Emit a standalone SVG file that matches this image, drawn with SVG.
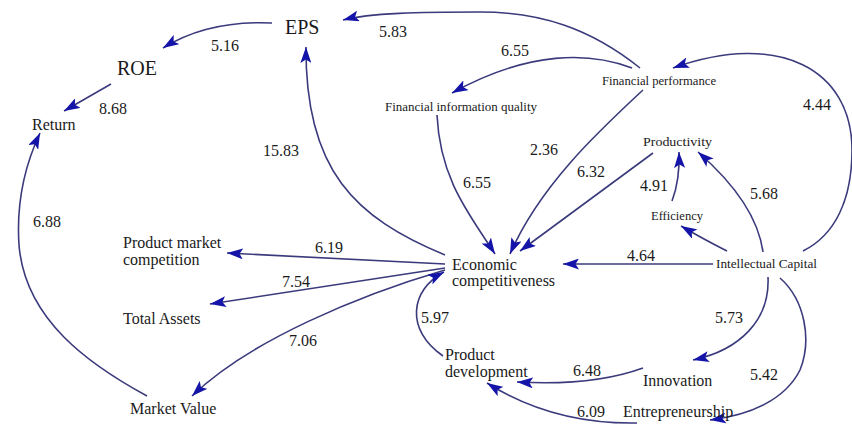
<svg xmlns="http://www.w3.org/2000/svg" width="852" height="426" viewBox="0 0 852 426">
<defs>
<marker id="ah" markerUnits="userSpaceOnUse" markerWidth="17" markerHeight="11" refX="16" refY="5.5" orient="auto">
<path d="M0,0 L16,5.5 L0,11 L3.5,5.5 z" fill="#1414a8"/>
</marker>
<style>
text{font-family:"Liberation Serif","Times New Roman",serif;fill:#1a1a1a}
.big{font-size:20px}
.lbl{font-size:16px}
.num{font-size:16px}
.sm{font-size:13px}
.e{fill:none;stroke:#3a3a7c;stroke-width:1.6;marker-end:url(#ah)}
</style>
</defs>
<rect width="852" height="426" fill="#ffffff"/>
<g id="connectors">
<path class="e" d="M272,23 Q208,20 163,48"/>
<path class="e" d="M111,84 L64,111"/>
<path class="e" d="M147,396 C90,365 25,320 19,245 C16,200 25,165 40,133"/>
<path class="e" d="M445,255 C355,218 305,170 306,47"/>
<path class="e" d="M640,68 C590,28 540,12 480,12 C420,12 370,13 343,20"/>
<path class="e" d="M632,68 C590,52 530,50 452,93"/>
<path class="e" d="M437,115 C440,180 470,215 495,254"/>
<path class="e" d="M643,90 C600,130 540,185 510,254"/>
<path class="e" d="M653,153 L520,251"/>
<path class="e" d="M672,201 Q680,180 679,152"/>
<path class="e" d="M763,252 C758,215 730,180 698,152"/>
<path class="e" d="M727,251 Q705,240 681,226"/>
<path class="e" d="M803,251 C835,235 852,200 852,150 C852,70 780,30 673,68"/>
<path class="e" d="M713,264 L563,264"/>
<path class="e" d="M445,264 L227,253"/>
<path class="e" d="M445,268 L210,304"/>
<path class="e" d="M445,270 C360,295 250,340 192,396"/>
<path class="e" d="M443,356 C405,330 410,290 444,272"/>
<path class="e" d="M643,368 C610,380 570,385 517,382"/>
<path class="e" d="M768,277 C770,320 740,350 693,360"/>
<path class="e" d="M780,278 C805,300 812,340 800,370 C785,400 750,415 710,420"/>
<path class="e" d="M637,423 C580,424 530,410 487,383"/>
</g>
<g id="labels">
<text class="num" x="211" y="51">5.16</text>
<text class="num" x="99" y="114">8.68</text>
<text class="num" x="379" y="37">5.83</text>
<text class="num" x="263" y="156">15.83</text>
<text class="num" x="33" y="227">6.88</text>
<text class="num" x="501" y="56">6.55</text>
<text class="num" x="530" y="155">2.36</text>
<text class="num" x="463" y="188">6.55</text>
<text class="num" x="577" y="177">6.32</text>
<text class="num" x="640" y="191">4.91</text>
<text class="num" x="750" y="199">5.68</text>
<text class="num" x="803" y="110">4.44</text>
<text class="num" x="627" y="261">4.64</text>
<text class="num" x="315" y="253">6.19</text>
<text class="num" x="282" y="287">7.54</text>
<text class="num" x="289" y="346">7.06</text>
<text class="num" x="421" y="323">5.97</text>
<text class="num" x="715" y="323">5.73</text>
<text class="num" x="573" y="376">6.48</text>
<text class="num" x="750" y="380">5.42</text>
<text class="num" x="577" y="417">6.09</text>
</g>
<g id="node-eps"><text class="big" x="285" y="34">EPS</text></g>
<g id="node-roe"><text class="big" x="117" y="75">ROE</text></g>
<g id="node-return"><text class="lbl" x="32" y="130">Return</text></g>
<g id="node-financial-performance"><text class="sm" x="602" y="85" textLength="114" lengthAdjust="spacingAndGlyphs">Financial performance</text></g>
<g id="node-financial-information-quality"><text class="sm" x="385" y="111" textLength="152" lengthAdjust="spacingAndGlyphs">Financial information quality</text></g>
<g id="node-productivity"><text class="sm" x="643" y="146" textLength="69" lengthAdjust="spacingAndGlyphs">Productivity</text></g>
<g id="node-efficiency"><text class="sm" x="651" y="220" textLength="52" lengthAdjust="spacingAndGlyphs">Efficiency</text></g>
<g id="node-intellectual-capital"><text class="sm" x="716" y="268" textLength="101" lengthAdjust="spacingAndGlyphs">Intellectual Capital</text></g>
<g id="node-economic-competitiveness"><text class="lbl" x="452" y="270">Economic</text><text class="lbl" x="452" y="286">competitiveness</text></g>
<g id="node-product-market-competition"><text class="lbl" x="123" y="248">Product market</text><text class="lbl" x="123" y="265">competition</text></g>
<g id="node-total-assets"><text class="lbl" x="123" y="324">Total Assets</text></g>
<g id="node-market-value"><text class="lbl" x="130" y="414">Market Value</text></g>
<g id="node-product-development"><text class="lbl" x="445" y="360">Product</text><text class="lbl" x="445" y="377">development</text></g>
<g id="node-innovation"><text class="lbl" x="643" y="386">Innovation</text></g>
<g id="node-entrepreneurship"><text class="lbl" x="623" y="417">Entrepreneurship</text></g>
</svg>
